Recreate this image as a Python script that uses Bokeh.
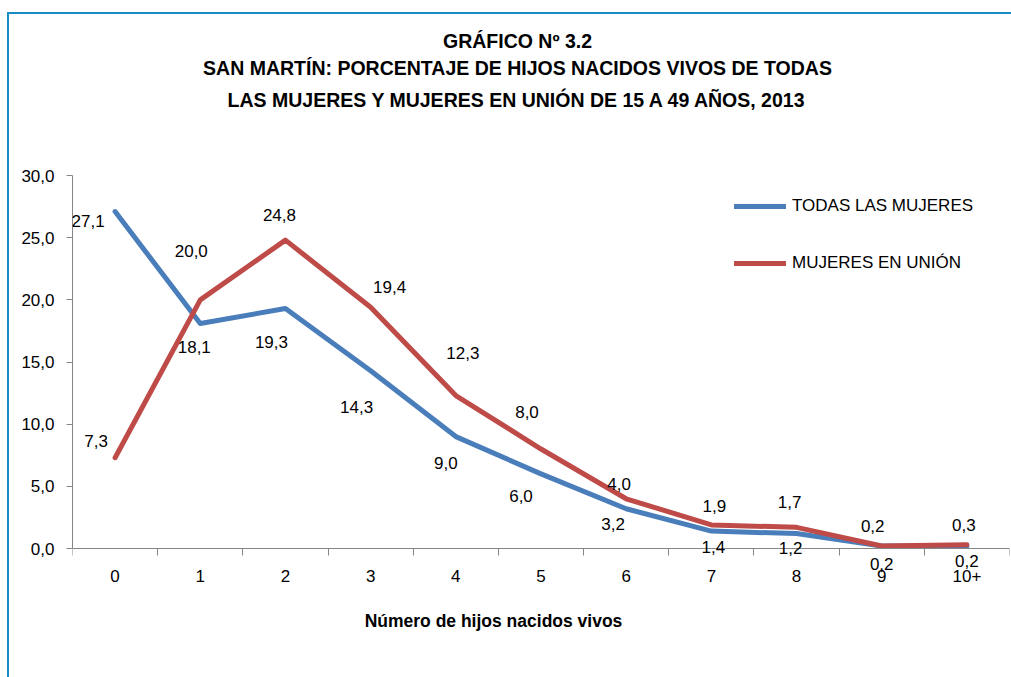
from bokeh.plotting import figure
from bokeh.models import (Range1d, FixedTicker, Legend, LegendItem, LabelSet,
                          ColumnDataSource, Label)
from bokeh.core.properties import value
from bokeh.embed import file_html
from bokeh.resources import INLINE

# ---- data ----
categories = ["0", "1", "2", "3", "4", "5", "6", "7", "8", "9", "10+"]
todas = [27.1, 18.1, 19.3, 14.3, 9.0, 6.0, 3.2, 1.4, 1.2, 0.2, 0.2]
union = [7.3, 20.0, 24.8, 19.4, 12.3, 8.0, 4.0, 1.9, 1.7, 0.2, 0.3]
y_ticks = [0, 5, 10, 15, 20, 25, 30]
series_names = ["TODAS LAS MUJERES", "MUJERES EN UNIÓN"]
title_lines = ["GRÁFICO Nº 3.2",
               "SAN MARTÍN: PORCENTAJE DE HIJOS NACIDOS VIVOS DE TODAS",
               "LAS MUJERES Y MUJERES EN UNIÓN DE 15 A 49 AÑOS, 2013"]
x_title = "Número de hijos nacidos vivos"

# ---- styling / layout (pixels) ----
todas_dx = [-27, -6, -14, -14, -10, -20, -13, 2, -6, 0, 0]
todas_dy = [-9, -24, -33, -36, -26, -22, -15, -16, -14, -18, -15]
union_dx = [-19, -9, -6, 19, 7, -14, -7, 3, -7, -9, -3]
union_dy = [17, 49, 25, 20, 43, 37, 15, 19, 25, 20, 20]

FONT = "Liberation Sans"
BLUE = "#4A7EBB"
RED = "#BE4B48"
GRAY = "#868686"
FRAME_W = 937
FRAME_H = 654
AXIS0_FROM_TOP = 534          # y=0 line, px below the frame top
PX_PER_UNIT = 373 / 30        # 30 units span 373 px
title_x = 445
title_y = [628, 600.5, 568.5]  # px above frame bottom
xtitle_pos = (421, 48)


def fmt(v):
    return f"{v:.1f}".replace(".", ",")


n = len(categories)
xc = [i + 0.5 for i in range(n)]
y_end = AXIS0_FROM_TOP / PX_PER_UNIT
y_start = -(FRAME_H - AXIS0_FROM_TOP) / PX_PER_UNIT

p = figure(frame_width=FRAME_W, frame_height=FRAME_H,
           x_range=Range1d(0, n), y_range=Range1d(y_start, y_end),
           output_backend="svg", toolbar_location=None,
           min_border_left=72, min_border_right=2, min_border_top=14,
           min_border_bottom=9)
p.styles = {"box-shadow": "inset 7px 0 0 0 #FFFFFF, inset 0 12px 0 0 #FFFFFF, "
                          "inset 9px 0 0 0 #1B8DC6, inset 0 14px 0 0 #1B8DC6"}
p.outline_line_color = None
p.grid.visible = False
p.background_fill_alpha = 0
p.border_fill_alpha = 0

# y axis
ya = p.yaxis[0]
ya.ticker = FixedTicker(ticks=y_ticks, minor_ticks=[])
ya.bounds = (y_ticks[0], y_ticks[-1])
ya.major_label_overrides = {t: fmt(t) for t in y_ticks}
ya.axis_line_color = GRAY
ya.major_tick_line_color = GRAY
ya.major_tick_out = 6
ya.major_tick_in = 0
ya.minor_tick_line_color = None
ya.major_label_text_font = FONT
ya.major_label_text_font_size = "17px"
ya.major_label_text_color = "black"
ya.major_label_standoff = 12

# x axis at y=0: boundary ticks only, category names drawn as labels
xa = p.xaxis[0]
xa.fixed_location = 0
xa.ticker = FixedTicker(ticks=[], minor_ticks=list(range(n + 1)))
xa.axis_line_color = GRAY
xa.major_tick_line_color = None
xa.major_tick_out = 0
xa.major_tick_in = 0
xa.minor_tick_line_color = GRAY
xa.minor_tick_out = 7
xa.minor_tick_in = 0
xa.major_label_standoff = 0

r1 = p.line(xc, todas, line_color=BLUE, line_width=5, line_join="round", line_cap="round")
r2 = p.line(xc, union, line_color=RED, line_width=5, line_join="round", line_cap="round")

cat_src = ColumnDataSource(dict(x=xc, y=[0] * n, text=categories))
p.add_layout(LabelSet(x="x", y="y", text="text", y_offset=-27, source=cat_src,
                      text_font=value(FONT), text_font_size="17px", text_color="black",
                      text_align="center", text_baseline="middle"))

# data labels
for vals, dx, dy in ((todas, todas_dx, todas_dy), (union, union_dx, union_dy)):
    src = ColumnDataSource(dict(x=xc, y=vals, text=[fmt(v) for v in vals], dx=dx, dy=dy))
    p.add_layout(LabelSet(x="x", y="y", text="text", x_offset="dx", y_offset="dy",
                          source=src, text_font=value(FONT), text_font_size="17px",
                          text_color="black", text_align="center",
                          text_baseline="middle"))

legend = Legend(items=[LegendItem(label=series_names[0], renderers=[r1]),
                       LegendItem(label=series_names[1], renderers=[r2])],
                location=(662, 395), orientation="vertical",
                glyph_width=52, glyph_height=20, label_height=20, spacing=37,
                label_standoff=6, padding=0, margin=0,
                border_line_color=None, background_fill_alpha=0,
                label_text_font=FONT, label_text_font_size="17px",
                label_text_color="black")
p.add_layout(legend)

for txt, ty in zip(title_lines, title_y):
    p.add_layout(Label(x=title_x, y=ty, x_units="screen", y_units="screen", text=txt,
                       text_font=FONT, text_font_size="19.5px", text_font_style="bold",
                       text_color="black", text_align="center", text_baseline="middle"))

p.add_layout(Label(x=xtitle_pos[0], y=xtitle_pos[1], x_units="screen", y_units="screen",
                   text=x_title, text_font=FONT, text_font_size="17.5px",
                   text_font_style="bold", text_color="black", text_align="center",
                   text_baseline="middle"))

open("out.html", "w").write(file_html(p, INLINE))
